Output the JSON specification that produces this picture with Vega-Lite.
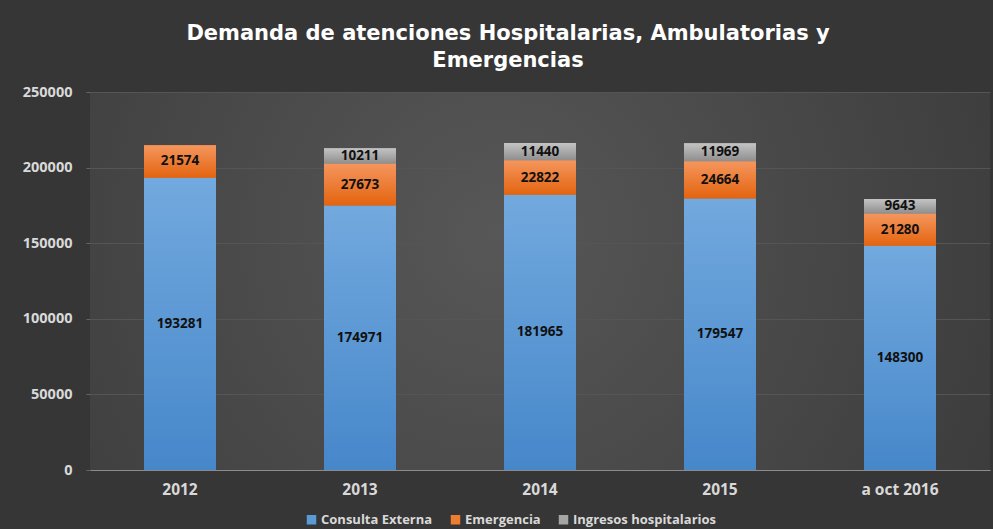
{
 "$schema": "https://vega.github.io/schema/vega-lite/v6.json",
 "width": 900,
 "height": 378,
 "autosize": "none",
 "padding": {"left": 90, "top": 92, "right": 3, "bottom": 59},
 "background": "#363636",
 "config": {
  "view": {"stroke": null, "fill": {"gradient": "radial", "x1": 0.45, "y1": 0.45, "r1": 0, "x2": 0.45, "y2": 0.45, "r2": 0.75, "stops": [{"offset": 0, "color": "#575757"}, {"offset": 1, "color": "#363636"}]}},
  "font": "Open Sans"
 },
 "title": {
  "text": ["Demanda de atenciones Hospitalarias, Ambulatorias y", "Emergencias"],
  "color": "#ffffff", "fontSize": 21, "font": "DejaVu Sans", "fontWeight": "bold",
  "lineHeight": 27, "anchor": "middle", "dx": -32, "offset": 13
 },
 "data": {"values": [
  {"year": "2012", "serie": "Consulta Externa", "order": 1, "value": 193281},
  {"year": "2012", "serie": "Emergencia", "order": 2, "value": 21574},
  {"year": "2013", "serie": "Consulta Externa", "order": 1, "value": 174971},
  {"year": "2013", "serie": "Emergencia", "order": 2, "value": 27673},
  {"year": "2013", "serie": "Ingresos hospitalarios", "order": 3, "value": 10211},
  {"year": "2014", "serie": "Consulta Externa", "order": 1, "value": 181965},
  {"year": "2014", "serie": "Emergencia", "order": 2, "value": 22822},
  {"year": "2014", "serie": "Ingresos hospitalarios", "order": 3, "value": 11440},
  {"year": "2015", "serie": "Consulta Externa", "order": 1, "value": 179547},
  {"year": "2015", "serie": "Emergencia", "order": 2, "value": 24664},
  {"year": "2015", "serie": "Ingresos hospitalarios", "order": 3, "value": 11969},
  {"year": "a oct 2016", "serie": "Consulta Externa", "order": 1, "value": 148300},
  {"year": "a oct 2016", "serie": "Emergencia", "order": 2, "value": 21280},
  {"year": "a oct 2016", "serie": "Ingresos hospitalarios", "order": 3, "value": 9643}
 ]},
 "transform": [
  {"stack": "value", "groupby": ["year"], "sort": [{"field": "order"}], "as": ["v0", "v1"]},
  {"calculate": "(datum.v0 + datum.v1) / 2", "as": "mid"}
 ],
 "encoding": {
  "x": {"field": "year", "type": "nominal", "sort": null,
   "scale": {"paddingInner": 0.6, "paddingOuter": 0.3},
   "axis": {"title": null, "labelAngle": 0, "labelColor": "#d9d9d9", "labelFontSize": 15.5, "labelFontWeight": "bold", "labelPadding": 12, "ticks": false, "domainColor": "#8c8c8c", "domainWidth": 1, "grid": false}
  }
 },
 "layer": [
  {
   "mark": {"type": "bar"},
   "encoding": {
    "y": {"field": "v0", "type": "quantitative", "scale": {"domain": [0, 250000], "nice": false},
     "axis": {"title": null, "format": "d", "values": [0, 50000, 100000, 150000, 200000, 250000], "labelColor": "#d9d9d9", "labelFontSize": 14.5, "labelFontWeight": "bold", "labelPadding": 14, "ticks": true, "tickSize": 4, "tickColor": "#666666", "domain": false, "gridColor": "#555555", "gridWidth": 1}},
    "y2": {"field": "v1"},
    "color": {"field": "serie", "type": "nominal",
     "scale": {"domain": ["Consulta Externa", "Emergencia", "Ingresos hospitalarios"], "range": ["#5b9bd5", "#ed7d31", "#a5a5a5"]},
     "legend": {"orient": "none", "legendX": 215, "legendY": 421, "direction": "horizontal", "title": null, "symbolType": "square", "symbolSize": 90, "symbolStrokeWidth": 0, "labelColor": "#d9d9d9", "labelFontSize": 13, "labelFontWeight": "bold", "columnPadding": 16, "labelOffset": 3}}
   }
  },
  {
   "transform": [{"filter": "datum.serie === 'Consulta Externa'"}],
   "mark": {"type": "bar", "color": {"gradient": "linear", "x1": 0, "y1": 0, "x2": 0, "y2": 1, "stops": [{"offset": 0, "color": "#72a9de"}, {"offset": 1, "color": "#4687ca"}]}},
   "encoding": {"y": {"field": "v0", "type": "quantitative"}, "y2": {"field": "v1"}}
  },
  {
   "transform": [{"filter": "datum.serie === 'Emergencia'"}],
   "mark": {"type": "bar", "color": {"gradient": "linear", "x1": 0, "y1": 0, "x2": 0, "y2": 1, "stops": [{"offset": 0, "color": "#f5965e"}, {"offset": 1, "color": "#e3640f"}]}},
   "encoding": {"y": {"field": "v0", "type": "quantitative"}, "y2": {"field": "v1"}}
  },
  {
   "transform": [{"filter": "datum.serie === 'Ingresos hospitalarios'"}],
   "mark": {"type": "bar", "color": {"gradient": "linear", "x1": 0, "y1": 0, "x2": 0, "y2": 1, "stops": [{"offset": 0, "color": "#c4c4c4"}, {"offset": 1, "color": "#8e8e8e"}]}},
   "encoding": {"y": {"field": "v0", "type": "quantitative"}, "y2": {"field": "v1"}}
  },
  {
   "mark": {"type": "text", "color": "#111111", "fontSize": 13.5, "fontWeight": "bold", "baseline": "middle", "align": "center"},
   "encoding": {"y": {"field": "mid", "type": "quantitative"}, "text": {"field": "value", "type": "nominal"}}
  }
 ]
}
